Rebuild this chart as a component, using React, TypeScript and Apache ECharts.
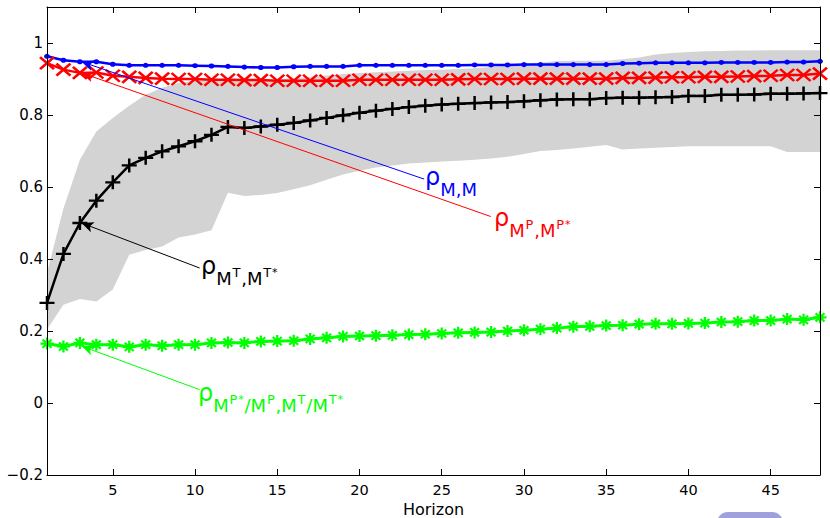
import React, { useEffect, useRef } from "react";
import * as echarts from "echarts";

const FONT = "DejaVu Sans";

const horizons = Array.from({ length: 48 }, (_, i) => i + 1);
const xTicks = [5, 10, 15, 20, 25, 30, 35, 40, 45];
const yTicks = [-0.2, 0, 0.2, 0.4, 0.6, 0.8, 1];

const rhoMM = [0.963, 0.952, 0.948, 0.948, 0.941, 0.938, 0.938, 0.938, 0.938, 0.937, 0.936, 0.935, 0.933, 0.932, 0.932, 0.934, 0.935, 0.935, 0.935, 0.938, 0.938, 0.938, 0.938, 0.938, 0.938, 0.938, 0.939, 0.939, 0.939, 0.940, 0.940, 0.940, 0.940, 0.940, 0.940, 0.943, 0.944, 0.945, 0.945, 0.945, 0.945, 0.946, 0.946, 0.946, 0.946, 0.947, 0.947, 0.949];
const rhoP = [0.944, 0.926, 0.917, 0.918, 0.909, 0.906, 0.903, 0.901, 0.900, 0.900, 0.898, 0.898, 0.897, 0.897, 0.895, 0.895, 0.895, 0.895, 0.895, 0.898, 0.898, 0.898, 0.898, 0.898, 0.898, 0.899, 0.900, 0.900, 0.900, 0.901, 0.901, 0.901, 0.901, 0.901, 0.901, 0.903, 0.903, 0.904, 0.905, 0.905, 0.906, 0.906, 0.907, 0.908, 0.909, 0.911, 0.911, 0.915];
const rhoT = [0.278, 0.414, 0.500, 0.562, 0.613, 0.660, 0.681, 0.699, 0.713, 0.727, 0.745, 0.767, 0.764, 0.768, 0.773, 0.778, 0.785, 0.792, 0.799, 0.806, 0.812, 0.817, 0.822, 0.826, 0.829, 0.831, 0.833, 0.835, 0.836, 0.838, 0.841, 0.843, 0.844, 0.844, 0.847, 0.848, 0.848, 0.849, 0.850, 0.853, 0.853, 0.856, 0.856, 0.857, 0.859, 0.859, 0.860, 0.861];
const rhoRatio = [0.165, 0.157, 0.167, 0.162, 0.162, 0.156, 0.162, 0.159, 0.162, 0.162, 0.167, 0.168, 0.167, 0.171, 0.172, 0.173, 0.178, 0.181, 0.185, 0.186, 0.187, 0.188, 0.190, 0.191, 0.193, 0.195, 0.196, 0.197, 0.200, 0.202, 0.205, 0.208, 0.212, 0.213, 0.215, 0.216, 0.219, 0.220, 0.220, 0.221, 0.222, 0.225, 0.226, 0.229, 0.229, 0.233, 0.231, 0.238];
const bandLower = [0.204, 0.273, 0.289, 0.282, 0.315, 0.412, 0.425, 0.435, 0.46, 0.468, 0.48, 0.584, 0.575, 0.578, 0.583, 0.594, 0.605, 0.62, 0.635, 0.645, 0.654, 0.66, 0.665, 0.668, 0.671, 0.673, 0.676, 0.679, 0.684, 0.692, 0.700, 0.703, 0.707, 0.712, 0.717, 0.704, 0.707, 0.709, 0.711, 0.713, 0.713, 0.713, 0.713, 0.713, 0.713, 0.697, 0.697, 0.697];
const bandUpper = [0.362, 0.54, 0.676, 0.754, 0.792, 0.826, 0.856, 0.876, 0.889, 0.896, 0.898, 0.896, 0.895, 0.896, 0.899, 0.902, 0.906, 0.910, 0.914, 0.917, 0.919, 0.921, 0.923, 0.925, 0.926, 0.928, 0.930, 0.933, 0.936, 0.940, 0.945, 0.950, 0.951, 0.951, 0.951, 0.955, 0.960, 0.968, 0.972, 0.975, 0.977, 0.978, 0.979, 0.979, 0.980, 0.980, 0.980, 0.980];

// leader lines in data coordinates: [fromX, fromY, tipX, tipY]
const leaderBlue = [23.93, 0.622, 3.1, 0.948];
const leaderRed = [27.98, 0.518, 3.1, 0.917];
const leaderBlack = [10.28, 0.375, 3.1, 0.5];
const leaderGreen = [10.28, 0.037, 3.1, 0.158];

// label anchors (start of the rho, at its baseline) in data coordinates
const labelPosBlue = [23.98, 0.6056];
const labelPosRed = [28.18, 0.4917];
const labelPosBlack = [10.36, 0.3583];
const labelPosGreen = [10.18, 0.0056];

// label pieces: r = rho, s = subscript, p = superscript, q = small star
const labelBlue = [["r", "ρ"], ["s", "M,M"]];
const labelRed = [["r", "ρ"], ["s", "M"], ["p", "P"], ["s", ",M"], ["p", "P"], ["q", "*"]];
const labelBlack = [["r", "ρ"], ["s", "M"], ["p", "T"], ["s", ",M"], ["p", "T"], ["q", "*"]];
const labelGreen = [["r", "ρ"], ["s", "M"], ["p", "P"], ["q", "*"], ["s", "/M"], ["p", "P"], ["s", ",M"], ["p", "T"], ["s", "/M"], ["p", "T"], ["q", "*"]];

const BLUE = "#0000ff";
const RED = "#ff0000";
const BLACK = "#000000";
const GREEN = "#00ff00";

const X_MARK = "path://M0,0L10,10M10,0L0,10";
const PLUS_MARK = "path://M5,0L5,10M0,5L10,5";
const STAR_MARK = "path://M5,0L5,10M0,5L10,5M1.6,1.6L8.4,8.4M8.4,1.6L1.6,8.4";

const PIECE_SIZE: Record<string, number> = { r: 24, s: 18, p: 13, q: 11 };
const PIECE_SHIFT: Record<string, number> = { r: 0, s: 11, p: 3, q: 2 };

function leader(color: string, l: number[]) {
  return {
    markLine: {
      silent: true,
      animation: false,
      symbol: ["none", "arrow"],
      symbolSize: [8, 12],
      label: { show: false },
      emphasis: { disabled: true },
      lineStyle: { color, width: 1, type: "solid" },
      data: [[{ coord: [l[0], l[1]] }, { coord: [l[2], l[3]] }]],
    },
  };
}

function pairs(values: number[]) {
  return horizons.map((h, i) => [h, values[i]]);
}

export default function App() {
  const ref = useRef<HTMLDivElement>(null);

  useEffect(() => {
    if (!ref.current) return;
    const chart = echarts.init(ref.current, null, { renderer: "svg" });

    const axisCommon = {
      type: "value",
      splitLine: { show: false },
      axisLine: { show: true, onZero: false, lineStyle: { color: "#000", width: 1 } },
      z: 5,
    };

    const pill = {
      type: "rect",
      id: "pill",
      silent: true,
      shape: { x: 717, y: 512, width: 66, height: 24, r: 11 },
      style: { fill: "#a0a0dc" },
    };

    const option: any = {
      animation: false,
      backgroundColor: "#ffffff",
      grid: { left: 47, right: 10, top: 7, bottom: 43, containLabel: false, outerBoundsMode: "none" },
      xAxis: [
        {
          ...axisCommon,
          min: 1,
          max: 48,
          position: "bottom",
          axisTick: { show: true, inside: true, length: 6, customValues: xTicks, lineStyle: { color: "#000" } },
          axisLabel: { customValues: xTicks, fontSize: 14.5, color: "#000", fontFamily: FONT, margin: 7 },
          name: "Horizon",
          nameLocation: "middle",
          nameGap: 25,
          nameTextStyle: { fontSize: 16, color: "#000", fontFamily: FONT },
        },
        {
          ...axisCommon,
          min: 1,
          max: 48,
          position: "top",
          axisTick: { show: true, inside: true, length: 6, customValues: xTicks, lineStyle: { color: "#000" } },
          axisLabel: { show: false },
        },
      ],
      yAxis: [
        {
          ...axisCommon,
          min: -0.2,
          max: 1.1,
          interval: 0.2,
          position: "left",
          axisTick: { show: true, inside: true, length: 6, customValues: yTicks, lineStyle: { color: "#000" } },
          axisLabel: {
            customValues: yTicks,
            fontSize: 15,
            color: "#000",
            fontFamily: FONT,
            margin: 4,
            formatter: (v: number) => {
              if (v > 1.05) return "";
              const s = String(Math.round(v * 10) / 10);
              return s.replace("-", "\u2212");
            },
          },
        },
        {
          ...axisCommon,
          min: -0.2,
          max: 1.1,
          interval: 0.2,
          position: "right",
          axisTick: { show: true, inside: true, length: 6, customValues: yTicks, lineStyle: { color: "#000" } },
          axisLabel: { show: false },
        },
      ],
      graphic: [pill],
      series: [
        {
          type: "custom",
          name: "band",
          silent: true,
          z: 1,
          data: horizons.map((h, i) => [h, bandLower[i], bandUpper[i]]),
          encode: { x: 0, y: [1, 2] },
          renderItem: (params: any, api: any) => {
            if (params.dataIndex !== 0) return null;
            const up = horizons.map((h, i) => api.coord([h, bandUpper[i]]));
            const lo = horizons.map((h, i) => api.coord([h, bandLower[i]])).reverse();
            return {
              type: "polygon",
              silent: true,
              shape: { points: up.concat(lo) },
              style: { fill: "#d3d3d3", stroke: "none" },
            };
          },
        },
        {
          type: "line",
          name: "ratio",
          data: pairs(rhoRatio),
          symbol: STAR_MARK,
          symbolSize: [13, 12],
          showAllSymbol: true,
          lineStyle: { color: GREEN, width: 3 },
          itemStyle: { color: GREEN, borderColor: GREEN, borderWidth: 2.2 },
          z: 3,
          ...leader(GREEN, leaderGreen),
        },
        {
          type: "line",
          name: "T",
          data: pairs(rhoT),
          symbol: PLUS_MARK,
          symbolSize: [15, 14],
          showAllSymbol: true,
          lineStyle: { color: BLACK, width: 2.5 },
          itemStyle: { color: BLACK, borderColor: BLACK, borderWidth: 2.4 },
          z: 3,
          ...leader(BLACK, leaderBlack),
        },
        {
          type: "line",
          name: "P",
          data: pairs(rhoP),
          symbol: X_MARK,
          symbolSize: [14, 12],
          showAllSymbol: true,
          lineStyle: { color: RED, width: 2.5 },
          itemStyle: { color: RED, borderColor: RED, borderWidth: 2.5 },
          z: 3,
          ...leader(RED, leaderRed),
        },
        {
          type: "line",
          name: "MM",
          data: pairs(rhoMM),
          symbol: "circle",
          symbolSize: [6, 5],
          showAllSymbol: true,
          lineStyle: { color: BLUE, width: 2.5 },
          itemStyle: { color: BLUE, borderWidth: 0 },
          z: 3,
          ...leader(BLUE, leaderBlue),
        },
      ],
    };

    chart.setOption(option);

    // build the sub/superscripted labels as text pieces anchored at data coordinates
    const canvas = document.createElement("canvas");
    const ctx = canvas.getContext("2d");
    const width = (t: string, fs: number) => {
      if (!ctx) return t.length * fs * 0.6;
      ctx.font = `${fs}px "${FONT}"`;
      return ctx.measureText(t).width;
    };
    const texts: any[] = [];
    const addLabel = (id: string, pos: number[], pieces: string[][], color: string) => {
      const p = chart.convertToPixel({ xAxisIndex: 0, yAxisIndex: 0 }, pos) as number[];
      if (!p) return;
      let x = p[0];
      const base = p[1];
      pieces.forEach((pc, k) => {
        const fs = PIECE_SIZE[pc[0]];
        const bl = base + PIECE_SHIFT[pc[0]];
        texts.push({
          type: "text",
          id: `${id}-${k}`,
          silent: true,
          z: 100,
          style: {
            text: pc[1],
            x,
            y: bl - 0.346 * fs,
            fontSize: fs,
            fontFamily: FONT,
            fill: color,
            align: "left",
            verticalAlign: "middle",
          },
        });
        x += width(pc[1], fs) + (pc[0] === "r" ? 0 : 0.8);
      });
    };
    addLabel("lb", labelPosBlue, labelBlue, BLUE);
    addLabel("lr", labelPosRed, labelRed, RED);
    addLabel("lk", labelPosBlack, labelBlack, BLACK);
    addLabel("lg", labelPosGreen, labelGreen, GREEN);
    chart.setOption({ graphic: [pill, ...texts] });

    return () => chart.dispose();
  }, []);

  return (
    <div
      ref={ref}
      style={{ position: "fixed", left: 0, top: 0, width: 830, height: 518, background: "#fff" }}
    />
  );
}
